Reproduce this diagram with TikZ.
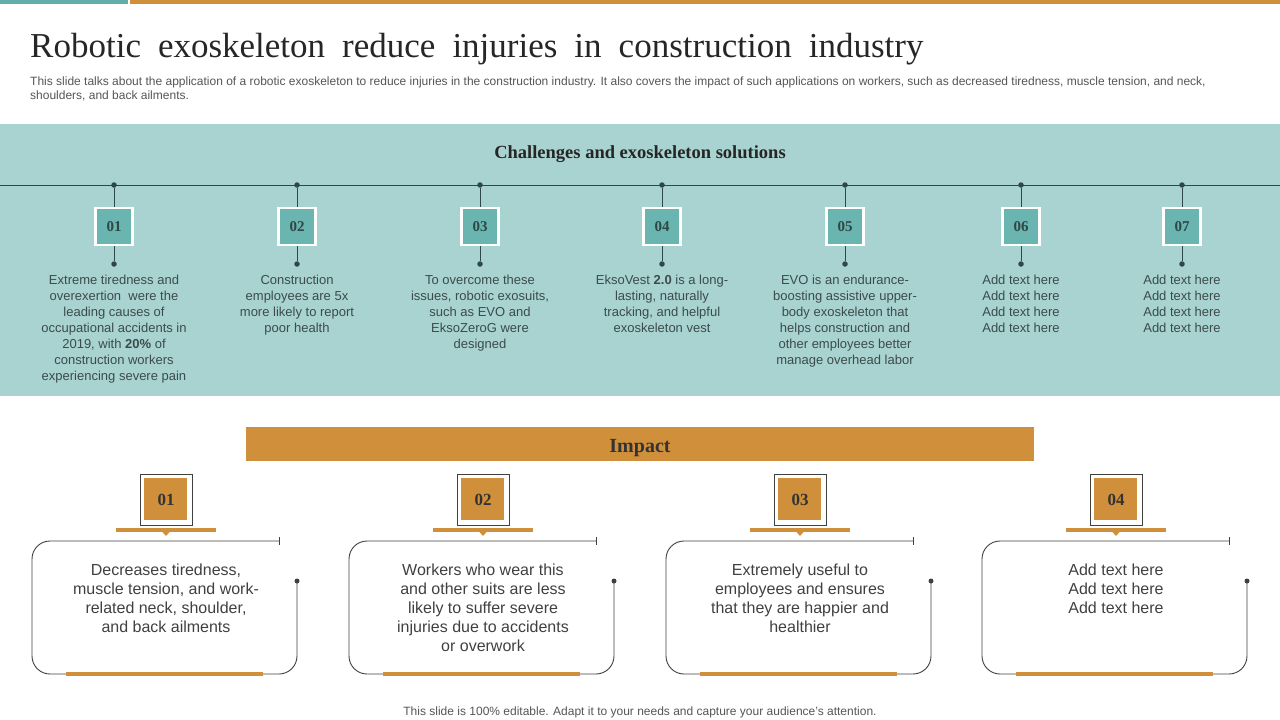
\documentclass[tikz,border=0pt]{standalone}
\usepackage{fontspec}
\setmainfont{Liberation Serif}
\setsansfont{Liberation Sans}
\usetikzlibrary{positioning}

\definecolor{bandteal}{HTML}{A8D3D0}
\definecolor{boxteal}{HTML}{6AB5AF}
\definecolor{topteal}{HTML}{5FAEAA}
\definecolor{ochre}{HTML}{D08F3B}
\definecolor{inkline}{HTML}{2E4747}
\definecolor{inktext}{HTML}{3C4B4B}
\definecolor{graytext}{HTML}{404040}
\definecolor{subgray}{HTML}{555555}

\begin{document}
\begin{tikzpicture}[x=1pt, y=-1pt,
  numbox/.style={draw=white, line width=2.5pt, fill=boxteal, minimum size=37pt,
    inner sep=0pt, text=inkline, font=\bfseries\fontsize{15}{15}\selectfont},
  topdot/.style={circle, fill=inkline, inner sep=0pt, minimum size=5.5pt},
  toptext/.style={anchor=north, align=center, inner sep=0pt, text=inktext,
    font=\sffamily\fontsize{13}{16}\selectfont},
  impnum/.style={draw=graytext, line width=0.8pt, minimum width=52pt, minimum height=51pt,
    inner sep=0pt, text=black!80, font=\bfseries\fontsize{17}{17}\selectfont,
    path picture={\fill[ochre] ([xshift=4pt,yshift=-4pt]path picture bounding box.north west)
      rectangle ([xshift=-5pt,yshift=5pt]path picture bounding box.south east);}},
  imptext/.style={anchor=north, align=center, inner sep=0pt, text=graytext,
    font=\sffamily\fontsize{16}{19}\selectfont},
  frame/.style={draw=graytext, line width=0.9pt, rounded corners=18pt}]

\useasboundingbox (0,0) rectangle (1280,720);

% header
\fill[topteal] (0,0) rectangle (128,4);
\fill[ochre] (130,0) rectangle (1280,4);
\node[anchor=base west, inner sep=0pt, text=black!85, font=\fontsize{35}{35}\selectfont]
  (title) at (30,57) {\spaceskip=17pt\relax Robotic exoskeleton reduce injuries in construction industry};
\node[anchor=north west, inner sep=0pt, align=left, text=subgray,
  font=\sffamily\fontsize{12}{14}\selectfont] (sub) at (30,77)
  {This slide talks about the application of a robotic exoskeleton to reduce injuries in the construction industry. It also covers the impact of such applications on workers, such as decreased tiredness, muscle tension, and neck,\\
   shoulders, and back ailments.};

% challenges band
\fill[bandteal] (0,124) rectangle (1280,396);
\node[font=\bfseries\fontsize{18.5}{18.5}\selectfont, text=black!85] (chal) at (640,154.5)
  {Challenges and exoskeleton solutions};
\coordinate (rail-l) at (0,185);
\coordinate (rail-r) at (1280,185);
\draw[inkline, line width=1pt] (rail-l) -- (rail-r);

\foreach \x/\txt [count=\i] in {
  114/{Extreme tiredness and\\overexertion\ \ were the\\leading causes of\\occupational accidents in\\2019, with \textbf{20\%} of\\construction workers\\experiencing severe pain},
  297/{Construction\\employees are 5x\\more likely to report\\poor health},
  480/{To overcome these\\issues, robotic exosuits,\\such as EVO and\\EksoZeroG were\\designed},
  662/{EksoVest \textbf{2.0} is a long-\\lasting, naturally\\tracking, and helpful\\exoskeleton vest},
  845/{EVO is an endurance-\\boosting assistive upper-\\body exoskeleton that\\helps construction and\\other employees better\\manage overhead labor},
  1021/{Add text here\\Add text here\\Add text here\\Add text here},
  1182/{Add text here\\Add text here\\Add text here\\Add text here}} {
  \node[topdot] (t\i) at (\x,185) {};
  \node[numbox] (b\i) at (\x,226.5) {0\i};
  \node[topdot] (d\i) at (\x,264) {};
  \draw[inkline, line width=1pt] (t\i) -- (b\i);
  \draw[inkline, line width=1pt] (b\i) -- (d\i);
  \node[toptext] (c\i) at (\x,274.5) {\txt};
}

% impact
\node[fill=ochre, minimum width=788pt, minimum height=34pt, inner sep=0pt] (impact) at (640,444) {};
\node[anchor=base, inner sep=0pt, text=black!80, font=\bfseries\fontsize{20}{20}\selectfont]
  (impact-t) at (640,452) {Impact};

\foreach \c/\txt [count=\i] in {
  166/{Decreases tiredness,\\muscle tension, and work-\\related neck, shoulder,\\and back ailments},
  483/{Workers who wear this\\and other suits are less\\likely to suffer severe\\injuries due to accidents\\or overwork},
  800/{Extremely useful to\\employees and ensures\\that they are happier and\\healthier},
  1116/{Add text here\\Add text here\\Add text here}} {
  \node[impnum] (n\i) at (\c,499.5) {0\i};
  \draw[ochre, line width=3.5pt] (\c-50,530) -- (\c+50,530);
  \fill[ochre] (\c-4.5,531) -- (\c+4.5,531) -- (\c,536) -- cycle;
  \coordinate (k\i) at (\c+113,541);
  \coordinate (e\i) at (\c+131,581);
  \draw[frame] (k\i) -- (\c-134,541) -- (\c-134,674) -- (\c+131,674) -- (e\i);
  \draw[graytext, line width=0.9pt] ([yshift=-4pt]k\i) -- ([yshift=4pt]k\i);
  \fill[graytext] (e\i) circle (2.5pt);
  \draw[ochre, line width=4pt] (\c-100,674) -- (\c+97,674);
  \node[imptext] (m\i) at (\c,564) {\txt};
}

% footer
\node[text=subgray, font=\sffamily\fontsize{12}{12}\selectfont] (foot) at (640,712)
  {This slide is 100\% editable. Adapt it to your needs and capture your audience's attention.};
\end{tikzpicture}
\end{document}
